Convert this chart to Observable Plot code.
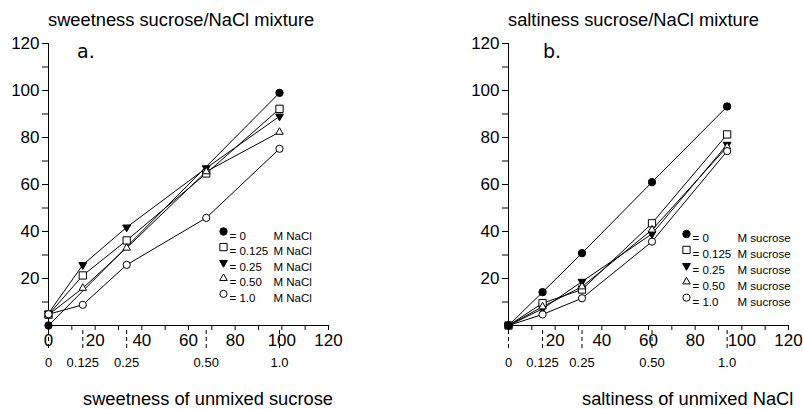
<!DOCTYPE html>
<html><head><meta charset="utf-8">
<script src="https://cdn.jsdelivr.net/npm/d3@7"></script>
<script src="https://cdn.jsdelivr.net/npm/@observablehq/plot@0.6"></script>
<style>
body{margin:0;background:#fff;}
#wrap{position:relative;width:803px;height:409px;overflow:hidden;font-family:"Liberation Sans",Arial,sans-serif;color:#000;}
.panel{position:absolute;top:0;}
.lbl{position:absolute;white-space:nowrap;line-height:1;}
.title{font-size:18.3px;}
.letter{font-family:"DejaVu Sans",sans-serif;font-size:19px;}
</style></head><body>
<div id="wrap"></div>
<script>
// ---- data ----
const concLabels = ["= 0", "= 0.125", "= 0.25", "= 0.50", "= 1.0"];
const unmixedLabels = ["0", "0.125", "0.25", "0.50", "1.0"];

// panel a: sweetness of mixture vs sweetness of unmixed sucrose
const sucroseX = [0, 14.7, 33.5, 67.6, 99];
const sweet_0    = [0, 14.7, 33.5, 67.6, 99];   // identity line (markers only at ends visible)
const sweet_0_marked = [true, false, false, false, true];
const sweet_0125 = [4.6, 21.3, 36.2, 64.7, 92.2];
const sweet_025  = [5.2, 25.8, 41.8, 67, 89];
const sweet_050  = [4.6, 15.9, 33, 65.5, 82.3];
const sweet_100  = [4.8, 8.8, 25.8, 45.8, 75.2];

// panel b: saltiness of mixture vs saltiness of unmixed NaCl
const naclX = [0, 14.6, 31.5, 61.5, 93.7];
const salt_0    = [0, 14.2, 30.8, 61, 93.2];
const salt_0_marked = [true, true, true, true, true];
const salt_0125 = [0, 9.5, 15.3, 43.5, 81.3];
const salt_025  = [0, 7.1, 18.7, 39, 77];
const salt_050  = [0, 8, 16.5, 40.7, 76];
const salt_100  = [0, 4.7, 11.6, 35.7, 74.2];

const majorTicks = [20, 40, 60, 80, 100, 120];
const minorTicks = [10, 30, 50, 70, 90, 110];
const allXTicks = [0, 10, 20, 30, 40, 50, 60, 70, 80, 90, 100, 110, 120];
const leftXLabelTicks = [0, 20, 40, 60, 80, 100, 120];
const rightXLabelTicks = [20, 40, 60, 80, 100, 120];

// ---- symbols ----
const triangleDown = {
  draw(ctx, size) {
    const s3 = Math.sqrt(3);
    const y = Math.sqrt(size / (s3 * 3));
    ctx.moveTo(0, y * 2);
    ctx.lineTo(-s3 * y, -y);
    ctx.lineTo(s3 * y, -y);
    ctx.closePath();
  }
};
const symbols = ["circle", "square", triangleDown, "triangle", "circle"];
const fills = ["black", "white", "black", "white", "white"];
const radii = [3.7, 4.1, 2.9, 2.8, 3.6];
const drawOrder = [1, 2, 3, 4, 0];

function makePanel({xs, series, marked0, unit, xLabelTicks, marginRight, width, legend}) {
  const rows = [];
  series.forEach((ys, s) => ys.forEach((y, i) => rows.push({s, i, x: xs[i], y})));
  const marks = [
    Plot.axisY(majorTicks, {anchor: "left", tickSize: 6, tickPadding: 3, fontSize: 17, label: null}),
    Plot.axisY(minorTicks, {anchor: "left", tickSize: 6, tickFormat: () => "", label: null}),
    Plot.axisX(allXTicks, {anchor: "bottom", tickSize: 5, tickPadding: 3, fontSize: 17, label: null,
      tickFormat: d => xLabelTicks.includes(d) ? String(d) : ""}),
    Plot.axisX(xs, {anchor: "bottom", tickSize: 18, dy: 5, tickPadding: 9, fontSize: 13, label: null,
      strokeDasharray: "4,3", tickFormat: d => unmixedLabels[xs.indexOf(d)]}),
    Plot.ruleX([0], {stroke: "black"}),
    Plot.ruleY([0], {stroke: "black"}),
    Plot.line(rows, {x: "x", y: "y", z: "s", stroke: "black", strokeWidth: 1})
  ];
  drawOrder.forEach(s => {
    const pts = rows.filter(d => d.s === s && (s !== 0 || marked0[d.i]));
    marks.push(Plot.dot(pts, {x: "x", y: "y", symbol: symbols[s],
      fill: fills[s], stroke: "black", strokeWidth: 1, r: radii[s]}));
  });
  concLabels.forEach((lab, i) => {
    const dy = legend.top + i * legend.gap;
    marks.push(Plot.dot([lab], {frameAnchor: "top-left", dx: legend.sym, dy, symbol: symbols[i],
      fill: fills[i], stroke: "black", strokeWidth: 1, r: radii[i]}));
    marks.push(Plot.text([lab], {frameAnchor: "top-left", dx: legend.sym + 6, dy, text: d => d,
      textAnchor: "start", fontSize: 11.5}));
    marks.push(Plot.text([unit], {frameAnchor: "top-left", dx: legend.unit, dy, text: d => d,
      textAnchor: "start", fontSize: 11.5}));
  });
  return Plot.plot({
    width, height: 409,
    marginLeft: 48, marginRight, marginTop: 43, marginBottom: 84,
    style: {fontFamily: "Liberation Sans, Arial, sans-serif", color: "black", background: "white", overflow: "visible"},
    x: {domain: [0, 120], label: null},
    y: {domain: [0, 120], label: null},
    marks
  });
}

const wrap = document.getElementById("wrap");
function place(el, left) { const d = document.createElement("div"); d.className = "panel"; d.style.left = left + "px"; d.appendChild(el); wrap.appendChild(d); }
function label(text, left, top, cls) { const d = document.createElement("div"); d.className = "lbl " + cls; d.style.left = left + "px"; d.style.top = top + "px"; d.textContent = text; wrap.appendChild(d); }

place(makePanel({xs: sucroseX, series: [sweet_0, sweet_0125, sweet_025, sweet_050, sweet_100], marked0: sweet_0_marked,
  unit: "M NaCl", xLabelTicks: leftXLabelTicks, marginRight: 72, width: 400,
  legend: {top: 188, gap: 15.6, sym: 175, unit: 225}}), 0);
place(makePanel({xs: naclX, series: [salt_0, salt_0125, salt_025, salt_050, salt_100], marked0: salt_0_marked,
  unit: "M sucrose", xLabelTicks: rightXLabelTicks, marginRight: 15, width: 343,
  legend: {top: 190.5, gap: 15.9, sym: 178, unit: 229}}), 460);

label("sweetness sucrose/NaCl mixture", 48, 11, "title");
label("saltiness sucrose/NaCl mixture", 508, 11, "title");
label("a.", 77, 42, "letter");
label("b.", 543, 42, "letter");
label("sweetness of unmixed sucrose", 83, 390, "title");
label("saltiness of unmixed NaCl", 582, 390, "title");
</script>
</body></html>
